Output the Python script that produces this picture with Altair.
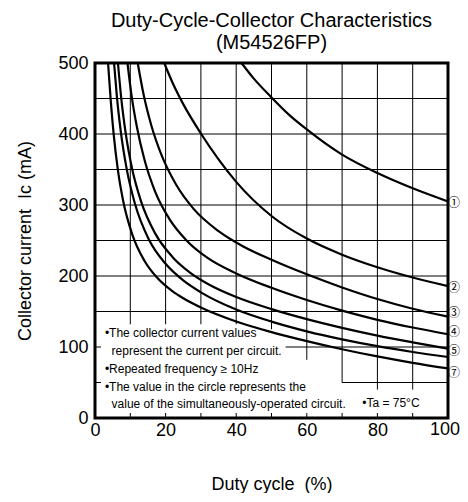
import altair as alt
import pandas as pd

# ---- data (duty cycle %, collector current mA) ----
curve_ids = ["1", "2", "3", "4", "5", "6", "7"]

c1_x = [41.5, 45, 50, 55, 60, 70, 80, 90, 100]
c1_y = [500, 478, 451.5, 427, 406.5, 371, 345, 323.5, 305]

c2_x = [19.6, 22, 25, 30, 35, 40, 50, 60, 70, 80, 90, 100]
c2_y = [500, 471.9, 442.1, 400.7, 364.2, 332.6, 284.5, 252.7, 230, 212.3, 197.8, 185.7]

c3_x = [12.1, 13.8, 16, 19, 23, 28, 35, 42, 50, 60, 70, 80, 90, 100]
c3_y = [500, 454.8, 411.3, 368.4, 328.5, 294.2, 263.2, 241.6, 222.9, 202.4, 183.9, 167.6, 153.9, 142.7]

c4_x = [9.2, 10.4, 11.9, 14, 17, 21, 26, 32, 40, 50, 60, 70, 80, 90, 100]
c4_y = [500, 452.6, 409.1, 364, 319.3, 280.9, 249.8, 225.1, 203.6, 183.4, 166.2, 151.2, 138.3, 127.4, 118]

c5_x = [6.5, 7.4, 8.7, 10.5, 13, 17, 22, 27, 32, 40, 50, 60, 70, 80, 90, 100]
c5_y = [500, 451.9, 400.9, 351.4, 305.9, 260.4, 226.5, 204.5, 188.8, 170.4, 153.4, 139.3, 127, 116.1, 106.6, 97.6]

c6_x = [5.4, 6.2, 7.3, 9, 11.3, 15.3, 20, 25, 30, 40, 50, 60, 70, 80, 90, 100]
c6_y = [500, 452.6, 403.8, 350.2, 302, 251, 217.2, 193.8, 177, 152.8, 135.8, 122.1, 110.8, 101.2, 93, 85.9]

c7_x = [3.7, 4.5, 5.3, 6.5, 8, 10.5, 14, 17.5, 22, 25, 30, 40, 50, 60, 70, 80, 90, 100]
c7_y = [500, 444.6, 399.1, 348.8, 305.4, 259.4, 221.5, 198.1, 178.3, 168.6, 155.6, 135.9, 121, 108.3, 96.9, 86.7, 77.7, 69.8]

curve_labels = ["①", "②", "③", "④", "⑤", "⑦"]
curve_label_y = [303, 183, 148, 121, 94, 64]

x_tick_values = [0, 20, 40, 60, 80]
x_last_label = "100"
y_tick_values = [0, 100, 200, 300, 400, 500]

# grid segments (data units): vertical lines and where they stop, horizontal lines and where they start
grid_v_x = [10, 20, 30, 40, 50, 60, 70, 80, 90]
grid_v_low = [132, 132, 132, 132, 125, 82, 50, 40, 40]
grid_h_y = [450, 400, 350, 300, 250, 200, 150, 100, 50]
grid_h_left = [0, 0, 0, 0, 0, 0, 0, 54, 70]

inner_tick_x = [10, 20, 30, 40, 50, 60, 70, 80, 90]
inner_tick_y = [50, 100]

note_lines = [
    "•The collector current values",
    "represent the current per circuit.",
    "•Repeated frequency ≥ 10Hz",
    "•The value in the circle represents the",
    "value of the simultaneously-operated circuit.",
]
note_ta = "•Ta = 75°C"

# ---- build tables ----
rows = []
for cid, xs, ys in zip(curve_ids,
                       [c1_x, c2_x, c3_x, c4_x, c5_x, c6_x, c7_x],
                       [c1_y, c2_y, c3_y, c4_y, c5_y, c6_y, c7_y]):
    for xv, yv in zip(xs, ys):
        rows.append({"curve": cid, "duty": xv, "ic": yv})
df = pd.DataFrame(rows)

gv = pd.DataFrame({"gx": grid_v_x, "glow": grid_v_low, "gtop": [500] * len(grid_v_x)})
gh = pd.DataFrame({"gy": grid_h_y, "gleft": grid_h_left, "gright": [100] * len(grid_h_y)})
lab = pd.DataFrame({"lab": curve_labels, "ly": curve_label_y, "lx": [100] * len(curve_labels)})
notes = pd.DataFrame({
    "t": note_lines + [note_ta],
    "nx": [2.8, 4.7, 2.8, 2.8, 4.7, 75.7],
    "ny": [120, 94, 69, 44, 20, 21],
})
ticks_b = pd.DataFrame({"tx": inner_tick_x})
ticks_l = pd.DataFrame({"ty": inner_tick_y})

FONT = "Liberation Sans"
W, H = 353, 355
xscale = alt.Scale(domain=[0, 100], nice=False, zero=False)
yscale = alt.Scale(domain=[0, 500], nice=False)

x_axis = alt.Axis(values=x_tick_values, title="Duty cycle\u00a0 (%)", grid=False, ticks=False,
                  domain=False, labelFontSize=18, titleFontSize=18, labelFont=FONT,
                  titleFont=FONT, titleFontWeight="normal", labelColor="black",
                  titleColor="black", labelPadding=3, titlePadding=36,
                  labelFlush=False, labelOverlap=False)
y_axis = alt.Axis(values=y_tick_values, title="Collector current\u00a0 Ic (mA)", grid=False,
                  ticks=False, domain=False, labelFontSize=18, titleFontSize=18,
                  labelFont=FONT, titleFont=FONT, titleFontWeight="normal",
                  labelColor="black", titleColor="black", labelPadding=7,
                  titlePadding=23, labelOverlap=False)

lines = alt.Chart(df).mark_line(color="black", strokeWidth=2.2, interpolate="monotone").encode(
    x=alt.X("duty:Q", scale=xscale, axis=x_axis),
    y=alt.Y("ic:Q", scale=yscale, axis=y_axis),
    detail="curve:N",
    order="duty:Q",
)

grid_v = alt.Chart(gv).mark_rule(color="black", strokeWidth=1).encode(
    x=alt.X("gx:Q", scale=xscale),
    y=alt.Y("glow:Q", scale=yscale),
    y2="gtop:Q",
)
grid_h = alt.Chart(gh).mark_rule(color="black", strokeWidth=1).encode(
    x=alt.X("gleft:Q", scale=xscale),
    x2="gright:Q",
    y=alt.Y("gy:Q", scale=yscale),
)
tick_b = alt.Chart(ticks_b).mark_rule(color="black", strokeWidth=1).encode(
    x=alt.X("tx:Q", scale=xscale),
    y=alt.value(H), y2=alt.value(H - 5),
)
tick_l = alt.Chart(ticks_l).mark_rule(color="black", strokeWidth=1).encode(
    y=alt.Y("ty:Q", scale=yscale),
    x=alt.value(0), x2=alt.value(6),
)

last_x_label = alt.Chart(pd.DataFrame({"t": [x_last_label], "lx": [100]})).mark_text(
    align="center", baseline="top", dx=-3, fontSize=18, font=FONT, color="black").encode(
    x=alt.X("lx:Q", scale=xscale),
    y=alt.value(H + 3),
    text="t:N",
)

labels = alt.Chart(lab).mark_text(align="left", baseline="middle", dx=0, fontSize=12,
                                  font="Noto Sans CJK JP", color="black").encode(
    x=alt.X("lx:Q", scale=xscale),
    y=alt.Y("ly:Q", scale=yscale),
    text="lab:N",
)

note_text = alt.Chart(notes).mark_text(align="left", baseline="middle", fontSize=12,
                                       font=FONT, color="black").encode(
    x=alt.X("nx:Q", scale=xscale),
    y=alt.Y("ny:Q", scale=yscale),
    text="t:N",
)

chart = alt.layer(lines, grid_v, grid_h, tick_b, tick_l, last_x_label, labels, note_text).properties(
    width=W,
    height=H,
    padding={"left": 87, "top": 55, "right": 12, "bottom": 75},
    autosize=alt.AutoSizeParams(type="none"),
    background="white",
    title=alt.TitleParams(
        text=["Duty-Cycle-Collector Characteristics", "(M54526FP)"],
        fontSize=20, font=FONT, fontWeight="normal", color="black",
        anchor="middle", lineHeight=22, offset=1,
    ),
).configure_view(stroke="black", strokeWidth=3)

chart.save("out.html", embed_options={"renderer": "svg", "actions": False})
